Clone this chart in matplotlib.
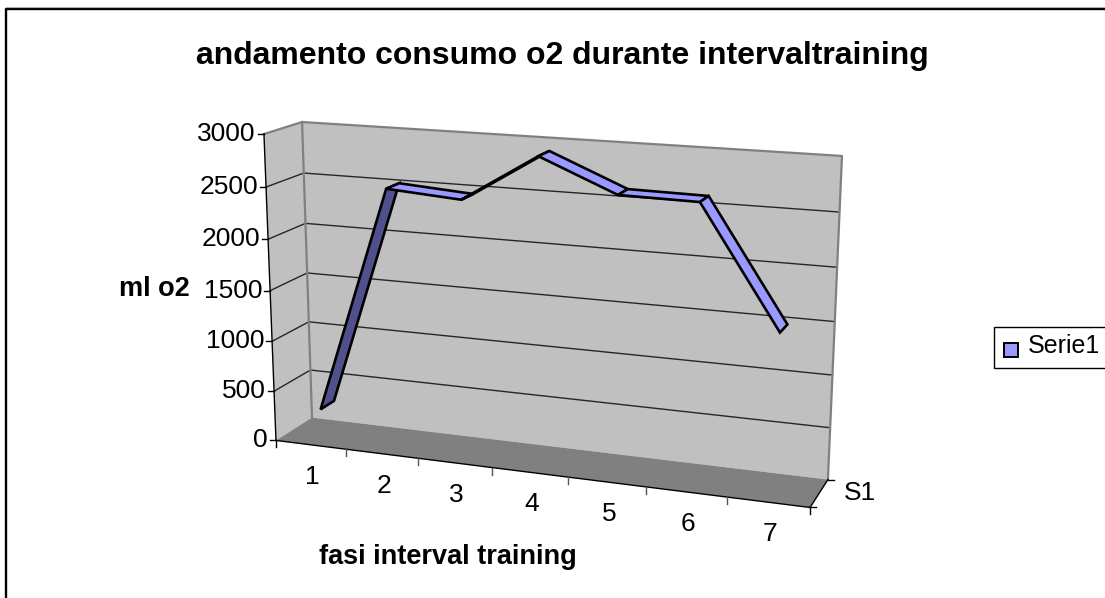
import matplotlib
matplotlib.use('Agg')
import matplotlib.pyplot as plt
import numpy as np
from matplotlib.patches import Polygon, Rectangle

plt.rcParams['font.family'] = ['Liberation Sans', 'DejaVu Sans']

# data
fasi = ['1', '2', '3', '4', '5', '6', '7']
consumo_o2 = [290, 2520, 2470, 2920, 2620, 2610, 1500]
y_ticks = [0, 500, 1000, 1500, 2000, 2500, 3000]
serie_name = 'Serie1'
title = 'andamento consumo o2 durante intervaltraining'
x_label = 'fasi interval training'
y_label = 'ml o2'

W, H = 1105, 598
WALL = '#c0c0c0'
FLOOR = '#808080'
EDGE = '#808080'
TOP_FACE = '#9999ff'
UNDER_FACE = '#50508c'

# box corners as (category, value, depth) -> screen pixel, used to fit the 3d camera
n = len(fasi)
ymax = y_ticks[-1]
box_world = [(0, 0, 0), (0, ymax, 0), (n, 0, 0),
             (0, 0, 1), (0, ymax, 1), (n, 0, 1), (n, ymax, 1)]
box_pixel = [(276, 440), (264, 134), (810, 508),
             (312, 418), (302, 122), (828, 479), (842, 156)]


def fit_camera(world, pixel):
    rows = []
    for (a, b, c), (px, py) in zip(world, pixel):
        a, b, c = a / n, b / ymax, c
        rows.append([a, b, c, 1, 0, 0, 0, 0, -px * a, -px * b, -px * c, -px])
        rows.append([0, 0, 0, 0, a, b, c, 1, -py * a, -py * b, -py * c, -py])
    return np.linalg.svd(np.array(rows, dtype=float))[2][-1].reshape(3, 4)


CAM = fit_camera(box_world, box_pixel)


def proj(cat, val, depth):
    p = CAM @ np.array([cat / n, val / ymax, depth, 1.0])
    return p[0] / p[2], p[1] / p[2]


fig = plt.figure(figsize=(W / 100, H / 100), dpi=100)
ax = fig.add_axes([0, 0, 1, 1])
ax.set_xlim(0, W)
ax.set_ylim(H, 0)
ax.axis('off')

# chart frame, runs off the right and bottom of the picture
ax.plot([6, 6, W + 5], [H + 5, 9, 9], color='black', lw=1.7)
ax.plot([6, W + 5], [7, 7], color='#b0b0b0', lw=0.8)

# walls and floor
ax.add_patch(Polygon([proj(0, 0, 1), proj(0, ymax, 1), proj(n, ymax, 1), proj(n, 0, 1)],
                     fc=WALL, ec='none'))
ax.add_patch(Polygon([proj(0, 0, 0), proj(0, ymax, 0), proj(0, ymax, 1), proj(0, 0, 1)],
                     fc=WALL, ec='none'))
ax.add_patch(Polygon([proj(0, 0, 0), proj(0, 0, 1), proj(n, 0, 1), proj(n, 0, 0)],
                     fc=FLOOR, ec='none'))

# gridlines
for v in y_ticks[1:-1]:
    pts = np.array([proj(0, v, 0), proj(0, v, 1), proj(n, v, 1)])
    ax.plot(pts[:, 0], pts[:, 1], color='#262626', lw=1.0)

# wall edges
pts = np.array([proj(0, ymax, 0), proj(0, ymax, 1), proj(n, ymax, 1), proj(n, 0, 1)])
ax.plot(pts[:, 0], pts[:, 1], color=EDGE, lw=1.6)
pts = np.array([proj(0, ymax, 1), proj(0, 0, 1)])
ax.plot(pts[:, 0], pts[:, 1], color=EDGE, lw=1.6)

# axes lines
pts = np.array([proj(0, ymax, 0), proj(0, 0, 0), proj(n, 0, 0), proj(n, 0, 1)])
ax.plot(pts[:, 0], pts[:, 1], color='black', lw=1.0)

# y ticks and labels
for v in y_ticks:
    px, py = proj(0, v, 0)
    ax.plot([px - 6, px], [py, py], color='black', lw=1.0)
    ax.text(px - 8, py, str(v), ha='right', va='center', fontsize=19, color='black')

# x ticks and labels
for i in range(n + 1):
    px, py = proj(i, 0, 0)
    ax.plot([px, px], [py, py + 7], color='black' if i in (0, n) else '#555555', lw=1.0)
for i, lab in enumerate(fasi):
    px, py = proj(i + 0.5, 0, 0)
    ax.text(px + 2, py + 32, lab, ha='center', va='center', fontsize=19)

# series axis tick
px, py = proj(n, 0, 1)
ax.plot([px, px + 6], [py, py], color='black', lw=1.0)
px, py = proj(n, 0, 0)
ax.plot([px - 1, px + 6], [py, py], color='black', lw=1.0)
ax.text(844, 493, 'S1', ha='left', va='center', fontsize=19)

# line ribbon
d0, d1 = 0.3, 0.68
front = [proj(i + 0.5, v, d0) for i, v in enumerate(consumo_o2)]
back = [proj(i + 0.5, v, d1) for i, v in enumerate(consumo_o2)]
for i in range(n - 1):
    a, b, c, d = front[i], back[i], back[i + 1], front[i + 1]
    cross = (d[0] - a[0]) * (b[1] - a[1]) - (d[1] - a[1]) * (b[0] - a[0])
    face = TOP_FACE if cross < 0 else UNDER_FACE
    ax.add_patch(Polygon([a, b, c, d], fc=face, ec='black', lw=1.9, joinstyle='miter', zorder=3 + i))

# titles
ax.text(562, 56, title, ha='center', va='center', fontsize=23, fontweight='bold')
ax.text(448, 557, x_label, ha='center', va='center', fontsize=19.5, fontweight='bold')
ax.text(154, 289, y_label, ha='center', va='center', fontsize=19.5, fontweight='bold')

# legend
ax.add_patch(Rectangle((993.5, 326.5), 120, 41.5, fc='white', ec='black', lw=1.0))
ax.add_patch(Rectangle((1003.5, 342.5), 14, 14, fc=TOP_FACE, ec='black', lw=1.4))
ax.text(1028, 346, serie_name, ha='left', va='center', fontsize=18)

fig.savefig('out.png', dpi=100)
